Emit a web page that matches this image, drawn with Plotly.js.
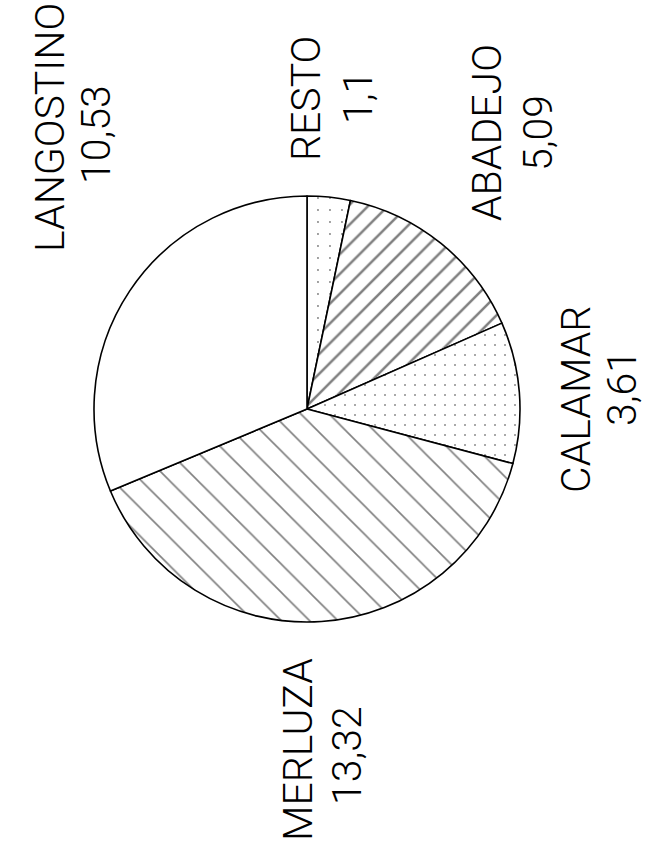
<!DOCTYPE html>
<html>
<head>
<meta charset="utf-8">
<script src="https://cdn.plot.ly/plotly-3.0.1.min.js"></script>
<style>html,body{margin:0;padding:0;background:#fff;}</style>
</head>
<body>
<div id="chart" style="width:647px;height:858px;"></div>
<script>
// Data (order: clockwise from 12 o'clock)
const categories = ["RESTO", "ABADEJO", "CALAMAR", "MERLUZA", "LANGOSTINO"];
const values = [1.1, 5.09, 3.61, 13.32, 10.53];
const valueLabels = ["1,1", "5,09", "3,61", "13,32", "10,53"];

const W = 647, H = 858;
const cx = 307, cy = 409, r = 213;

// label anchor positions in pixels (name, value), text is rotated -90
const namePos = {RESTO:[306,99], ABADEJO:[487,133], CALAMAR:[576,400], MERLUZA:[298,750], LANGOSTINO:[50,128]};
const valPos  = {RESTO:[358,98], ABADEJO:[538,133], CALAMAR:[622,388], MERLUZA:[347,755], LANGOSTINO:[96,135]};

const patterns = {
  RESTO: {shape: ".", size: 12, solidity: 0.02, fgcolor: "#000", bgcolor: "#fff"},
  ABADEJO: {shape: "/", size: 14, solidity: 0.18, fgcolor: "#000", bgcolor: "#fff"},
  CALAMAR: {shape: ".", size: 10, solidity: 0.025, fgcolor: "#000", bgcolor: "#fff"},
  MERLUZA: {shape: "\\", size: 20, solidity: 0.08, fgcolor: "#000", bgcolor: "#fff"},
  LANGOSTINO: {shape: "", size: 10, solidity: 0.1, fgcolor: "#000", bgcolor: "#fff"}
};

const trace = {
  type: "pie",
  labels: categories,
  values: values,
  sort: false,
  direction: "clockwise",
  rotation: 0,
  textinfo: "none",
  hoverinfo: "label+value",
  showlegend: false,
  marker: {
    colors: categories.map(() => "#ffffff"),
    line: {color: "#000", width: 1.6},
    pattern: {
      shape: categories.map(c => patterns[c].shape),
      size: categories.map(c => patterns[c].size),
      solidity: categories.map(c => patterns[c].solidity),
      fgcolor: categories.map(c => patterns[c].fgcolor),
      bgcolor: categories.map(c => patterns[c].bgcolor),
      fillmode: "overlay"
    }
  },
  domain: {
    x: [(cx - r) / W, (cx + r) / W],
    y: [(H - cy - r) / H, (H - cy + r) / H]
  }
};

const font = {family: "Roboto, Liberation Sans, sans-serif", size: 41, color: "#000", weight: 300};
const annotations = [];
categories.forEach((c, i) => {
  annotations.push({
    xref: "paper", yref: "paper", x: namePos[c][0] / W, y: 1 - namePos[c][1] / H,
    xanchor: "center", yanchor: "middle", text: c, textangle: -90, showarrow: false, font: font
  });
  annotations.push({
    xref: "paper", yref: "paper", x: valPos[c][0] / W, y: 1 - valPos[c][1] / H,
    xanchor: "center", yanchor: "middle", text: valueLabels[i], textangle: -90, showarrow: false, font: font
  });
});

const layout = {
  width: W, height: H,
  margin: {l: 0, r: 0, t: 0, b: 0},
  paper_bgcolor: "#fff",
  plot_bgcolor: "#fff",
  showlegend: false,
  annotations: annotations
};

Plotly.newPlot("chart", [trace], layout, {displayModeBar: false, staticPlot: true});
</script>
</body>
</html>
